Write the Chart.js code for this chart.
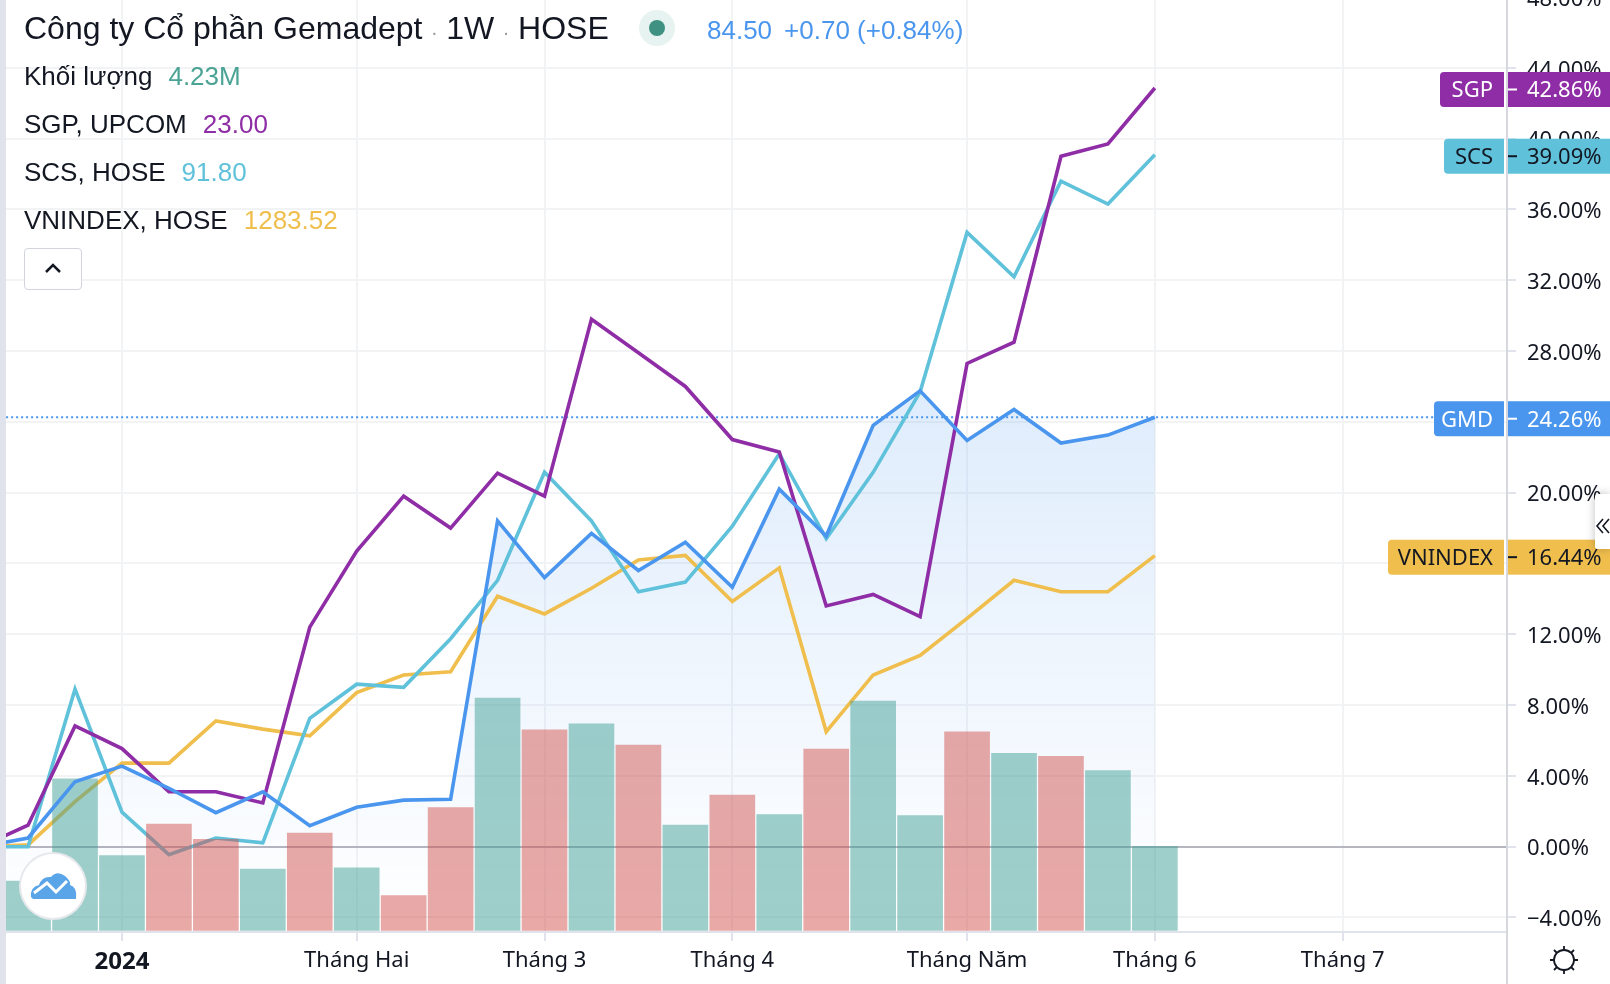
<!DOCTYPE html>
<html>
<head>
<meta charset="utf-8">
<script src="https://cdn.jsdelivr.net/npm/chart.js@4"></script>
<style>
  html, body { margin: 0; padding: 0; background: #fff; overflow: hidden; }
  body { width: 1610px; height: 984px; position: relative; font-family: "Liberation Sans", sans-serif; color: #131722; }
  #chart { position: absolute; left: 0; top: -3px; }
  #edge { position: absolute; left: 0; top: 0; width: 6px; height: 984px; background: #e0e3eb; }
  .row { position: absolute; left: 24px; font-size: 26px; line-height: 30px; white-space: nowrap; }
  .row span { margin-left: 16px; }
  #title { font-size: 32px; line-height: 36px; top: 10px; }
  #title i { font-style: normal; color: #9598a1; margin: 0 3px; font-size: 20px; }
  #dot { position: absolute; left: 639px; top: 10px; width: 36px; height: 36px; border-radius: 50%; background: #e7f3f0; }
  #dot b { position: absolute; left: 10px; top: 10px; width: 16px; height: 16px; border-radius: 50%; background: #3f9281; }
  #quote { position: absolute; left: 707px; top: 15px; font-size: 26px; line-height: 30px; color: #4a96ee; white-space: nowrap; }
  #quote span { margin-left: 12px; }
  #collapse { position: absolute; left: 24px; top: 248px; width: 56px; height: 40px; border: 1.5px solid #d1d4dc; border-radius: 4px; background: #fff; }
  #logo { position: absolute; left: 21px; top: 854px; width: 64px; height: 64px; border-radius: 50%; background: #fff; box-shadow: 0 0 0 2px #e6e8ec; }
  #side { position: absolute; left: 1595px; top: 494px; width: 15px; height: 55px; background: #fff; box-shadow: 0 0 10px rgba(0,0,0,.25); border-radius: 3px 0 0 3px; }
  #gear { position: absolute; left: 1547px; top: 943px; }
</style>
</head>
<body>
<canvas id="chart" width="1610" height="987"></canvas>
<div id="edge"></div>
<div class="row" id="title">Công ty Cổ phần Gemadept<i> · </i>1W<i> · </i>HOSE</div>
<div id="dot"><b></b></div>
<div id="quote">84.50<span>+0.70 (+0.84%)</span></div>
<div class="row" style="top:61px">Khối lượng<span style="color:#4aa394">4.23M</span></div>
<div class="row" style="top:109px">SGP, UPCOM<span style="color:#8e2da5">23.00</span></div>
<div class="row" style="top:157px">SCS, HOSE<span style="color:#5fc1da">91.80</span></div>
<div class="row" style="top:205px">VNINDEX, HOSE<span style="color:#f0be4c">1283.52</span></div>
<div id="collapse">
  <svg width="56" height="40"><path d="M21 23 L28 16 L35 23" fill="none" stroke="#131722" stroke-width="2.5"/></svg>
</div>
<div id="logo">
  <svg width="64" height="64" viewBox="0 0 64 64">
    <path d="M10 43 Q9 33 18 31 Q21 22 30 23 Q36 16 44 22 Q50 27 49 31 Q56 33 55 43 L55 45 L12 45 Z" fill="#5aa5e8"/>
    <path d="M13 39 L26 29 L35 38 L46 27" fill="none" stroke="#fff" stroke-width="3"/>
  </svg>
</div>
<div id="side">
  <svg width="15" height="55"><path d="M8 25 L2 32 L8 39 M14 25 L8 32 L14 39" fill="none" stroke="#131722" stroke-width="1.6"/></svg>
</div>
<svg id="gear" width="34" height="34" viewBox="0 0 34 34">
  <circle cx="17" cy="17" r="10" fill="none" stroke="#131722" stroke-width="1.8"/>
  <path d="M17 3V7M17 27V31M3 17H7M27 17H31M7 7L10 10M24 24L27 27M27 7L24 10M10 24L7 27" stroke="#131722" stroke-width="1.8"/>
</svg>
<script>
const weeks = [-3, -2, -1, 0, 1, 2, 3, 4, 5, 6, 7, 8, 9, 10, 11, 12, 13, 14, 15, 16, 17, 18, 19, 20, 21, 22];
const sgp = [0, 1.21, 6.82, 5.54, 3.1, 3.1, 2.47, 12.4, 16.7, 19.8, 18.0, 21.1, 19.8, 29.8, 27.9, 26.0, 23.0, 22.3, 13.6, 14.25, 13.0, 27.3, 28.5, 39.0, 39.7, 42.86];
const scs = [0, 0, 8.9, 1.95, -0.45, 0.49, 0.22, 7.25, 9.18, 9.0, 11.75, 15.05, 21.15, 18.4, 14.4, 14.95, 18.1, 22.2, 17.4, 21.15, 25.7, 34.7, 32.2, 37.6, 36.3, 39.09];
const vnindex = [0, 0.1, 2.54, 4.72, 4.72, 7.1, 6.64, 6.26, 8.7, 9.7, 9.88, 14.15, 13.15, 14.6, 16.2, 16.45, 13.85, 15.75, 6.5, 9.7, 10.8, 12.9, 15.05, 14.4, 14.4, 16.44];
const gmd = [0, 0.49, 3.67, 4.55, 3.3, 1.92, 3.1, 1.18, 2.23, 2.63, 2.68, 18.4, 15.2, 17.7, 15.6, 17.2, 14.65, 20.2, 17.55, 23.8, 25.75, 22.95, 24.7, 22.8, 23.25, 24.26];

const volWeeks = [-2, -1, 0, 1, 2, 3, 4, 5, 6, 7, 8, 9, 10, 11, 12, 13, 14, 15, 16, 17, 18, 19, 20, 21, 22];
const volumes = [2.48, 7.63, 3.77, 5.36, 4.59, 3.09, 4.9, 3.15, 1.75, 6.19, 11.7, 10.1, 10.4, 9.33, 5.31, 6.81, 5.83, 9.13, 11.55, 5.78, 10.0, 8.92, 8.77, 8.05, 4.23];
const volUp = [1, 1, 1, 0, 0, 1, 0, 1, 0, 0, 1, 0, 1, 0, 1, 0, 1, 0, 1, 1, 0, 1, 0, 1, 1];

const xTicks = [0, 5, 9, 13, 18, 22, 26];
const xLabels = ["2024", "Tháng Hai", "Tháng 3", "Tháng 4", "Tháng Năm", "Tháng 6", "Tháng 7"];
const yTicks = [-4, 0, 4, 8, 12, 16, 20, 24, 28, 32, 36, 40, 44, 48];

const tags = [
  { name: "SGP", data: sgp, left: 1440, bg: "#8e2da5", fg: "#fff" },
  { name: "SCS", data: scs, left: 1444, bg: "#5fc1da", fg: "#131722" },
  { name: "GMD", data: gmd, left: 1434, bg: "#4a96ee", fg: "#fff" },
  { name: "VNINDEX", data: vnindex, left: 1388, bg: "#f0be4c", fg: "#131722" },
];

const axisFont = '"Noto Sans", sans-serif';
const ctx = document.querySelector("#chart").getContext("2d");

let areaFill = ctx.createLinearGradient(0, 390, 0, 935);
areaFill.addColorStop(0, "rgba(74, 150, 238, 0.18)");
areaFill.addColorStop(1, "rgba(74, 150, 238, 0)");

const points = (xs, ys) => xs.map((x, i) => ({ x: x, y: ys[i] }));
const lineStyle = { type: "line", pointRadius: 0, borderWidth: 3.6, tension: 0, borderJoinStyle: "miter" };

// last-value tags on the price axis, drawn over the tick labels
const priceTags = {
  id: "priceTags",
  afterDraw(c) {
    const g = c.ctx;
    const y = c.scales.y;
    const edge = c.chartArea.right;
    g.save();
    g.fillStyle = "#d6d8de";
    g.fillRect(edge - 1, 0, 2, 987);
    g.font = "22px " + axisFont;
    g.textBaseline = "middle";
    tags.forEach((t) => {
      const v = t.data[t.data.length - 1];
      const py = y.getPixelForValue(v) + 1.5;
      g.fillStyle = t.bg;
      g.beginPath();
      g.roundRect(t.left, py - 17.5, edge - 3 - t.left, 35, [4, 0, 0, 4]);
      g.fill();
      g.fillRect(edge + 1, py - 17.5, 1610 - edge, 35);
      g.fillStyle = t.fg;
      g.textAlign = "right";
      g.fillText(t.name, edge - 14, py + 1.5);
      g.textAlign = "left";
      g.fillRect(edge + 1, py - 1, 9, 2);
      g.fillText(v.toFixed(2) + "%", edge + 20, py + 1.5);
    });
    g.restore();
  },
};

const myChart = new Chart(ctx, {
  type: "bar",
  plugins: [priceTags],
  data: {
    datasets: [
      { ...lineStyle, data: points(weeks, gmd), borderColor: "#4a96ee", fill: "start", backgroundColor: areaFill, yAxisID: "y", order: 1 },
      {
        type: "bar",
        data: points(volWeeks, volumes),
        backgroundColor: volUp.map((u) => (u ? "rgba(64, 160, 150, 0.5)" : "rgba(209, 83, 80, 0.5)")),
        barThickness: 45,
        yAxisID: "vol",
        order: 3,
      },
      { ...lineStyle, data: points(weeks, vnindex), borderColor: "#f0be4c", yAxisID: "y", order: 6 },
      { ...lineStyle, data: points(weeks, scs), borderColor: "#5fc1da", yAxisID: "y", order: 5 },
      { ...lineStyle, data: points(weeks, sgp), borderColor: "#8e2da5", yAxisID: "y", order: 4 },
      {
        ...lineStyle,
        data: [{ x: -3, y: gmd[gmd.length - 1] }, { x: 30, y: gmd[gmd.length - 1] }],
        borderColor: "#4a96ee",
        borderWidth: 2,
        borderDash: [2, 3],
        yAxisID: "y",
        order: 7,
      },
    ],
  },
  options: {
    responsive: false,
    animation: false,
    layout: { padding: { left: 6 } },
    plugins: {
      legend: { display: false },
      tooltip: { enabled: false },
      filler: { drawTime: "beforeDatasetsDraw" },
    },
    scales: {
      x: {
        type: "linear",
        offset: false,
        min: -2.47,
        max: 29.5,
        afterBuildTicks: (s) => { s.ticks = xTicks.map((v) => ({ value: v })); },
        afterFit: (s) => { s.height = 52; s.paddingLeft = 0; s.paddingRight = 0; },
        grid: { offset: false, color: "#f2f3f5", lineWidth: 2, tickColor: "#e0e3eb", tickLength: 9 },
        border: { color: "#e0e3eb", width: 2 },
        ticks: {
          autoSkip: false,
          maxRotation: 0,
          padding: 7,
          color: "#131722",
          font: (c) => ({ family: axisFont, size: c.index === 0 ? 24 : 22, weight: c.index === 0 ? "bold" : "normal" }),
          callback: (v) => xLabels[xTicks.indexOf(v)],
        },
      },
      y: {
        position: "right",
        min: -4.82,
        max: 48,
        afterBuildTicks: (s) => { s.ticks = yTicks.map((v) => ({ value: v })); },
        afterFit: (s) => { s.width = 103; s.paddingTop = 0; s.paddingBottom = 0; },
        grid: {
          color: (c) => (c.tick && c.tick.value === 0 ? "#b5b6be" : "#f2f3f5"),
          lineWidth: 2,
          tickColor: "#e0e3eb",
          tickLength: 9,
        },
        border: { display: false },
        ticks: {
          autoSkip: false,
          crossAlign: "near",
          padding: 11,
          labelOffset: 2.5,
          color: "#131722",
          font: { family: axisFont, size: 22 },
          callback: (v) => (v < 0 ? "−" : "") + Math.abs(v).toFixed(2) + "%",
        },
      },
      vol: { display: false, min: -0.08, max: 47 },
    },
  },
});
</script>
</body>
</html>
